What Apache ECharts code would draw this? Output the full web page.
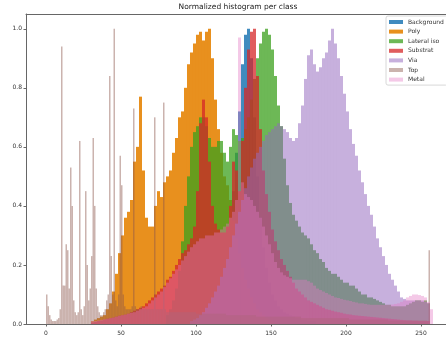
<!DOCTYPE html>
<html>
<head>
<meta charset="utf-8">
<script src="https://cdn.jsdelivr.net/npm/echarts@6/dist/echarts.min.js"></script>
<style>html,body{margin:0;padding:0;background:#fff}#c{width:446px;height:339px}</style>
</head>
<body>
<div id="c"></div>
<script>
// ---------- data (normalized counts per bin) ----------
const classNames = ['Background', 'Poly', 'Lateral iso', 'Substrat', 'Via', 'Top', 'Metal'];
const xTicks = [0, 50, 100, 150, 200, 250];
const yTicks = [0, 0.2, 0.4, 0.6, 0.8, 1.0];

// bins of width 2, first bin starts at the given start value
const backgroundStart = 104;
const background = [0.005, 0.008, 0.01, 0.015, 0.02, 0.04, 0.07, 0.12, 0.2, 0.32, 0.45, 0.58, 0.72, 0.88, 0.98, 1.0,
  0.9, 0.7, 0.5, 0.36, 0.26, 0.19, 0.14, 0.1, 0.08, 0.06, 0.05, 0.04, 0.035, 0.03, 0.025, 0.02, 0.02, 0.015, 0.015, 0.01, 0.01, 0.01];

const polyStart = 30;
const poly = [0.01, 0.015, 0.02, 0.025, 0.03, 0.05, 0.07, 0.11, 0.17, 0.24, 0.3, 0.36, 0.38, 0.42, 0.55, 0.6, 0.77, 0.52,
  0.36, 0.33, 0.33, 0.4, 0.45, 0.43, 0.48, 0.5, 0.52, 0.58, 0.63, 0.7, 0.72, 0.8, 0.88, 0.92, 0.95, 0.98, 0.99, 0.96,
  0.99, 1.0, 0.9, 0.76, 0.66, 0.58, 0.5, 0.47, 0.42, 0.35, 0.29, 0.24, 0.19, 0.15, 0.12, 0.09, 0.07, 0.05, 0.04, 0.03,
  0.02, 0.015, 0.01];

const lateralStart = 80;
const lateral = [0.03, 0.05, 0.08, 0.12, 0.18, 0.28, 0.4, 0.5, 0.6, 0.65, 0.67, 0.7, 0.7, 0.67, 0.63, 0.6, 0.6, 0.62,
  0.62, 0.58, 0.55, 0.6, 0.66, 0.64, 0.62, 0.63, 0.66, 0.7, 0.76, 0.83, 0.9, 0.95, 0.99, 1.0, 0.98, 0.93, 0.84, 0.74,
  0.67, 0.56, 0.47, 0.41, 0.37, 0.35, 0.33, 0.31, 0.3, 0.29, 0.27, 0.25, 0.24, 0.22, 0.21, 0.19, 0.18, 0.17, 0.17,
  0.16, 0.15, 0.14, 0.14, 0.13, 0.13, 0.12, 0.11, 0.1, 0.1, 0.09, 0.09, 0.085, 0.08, 0.075, 0.07, 0.065, 0.065, 0.06,
  0.06, 0.06, 0.06, 0.06, 0.065, 0.07, 0.075, 0.08, 0.08, 0.075, 0.08, 0.07];

const substratStart = 30;
const substrat = [0.005, 0.007, 0.01, 0.012, 0.015, 0.018, 0.02, 0.022, 0.025, 0.028, 0.03, 0.032, 0.035, 0.04, 0.045,
  0.05, 0.055, 0.06, 0.07, 0.08, 0.09, 0.1, 0.11, 0.12, 0.13, 0.15, 0.16, 0.18, 0.2, 0.22, 0.24, 0.25, 0.27, 0.29, 0.33,
  0.45, 0.68, 0.76, 0.7, 0.55, 0.4, 0.34, 0.32, 0.31, 0.31, 0.33, 0.4, 0.55, 0.52, 0.45, 0.62, 0.8, 0.93, 0.99, 1.0,
  0.84, 0.66, 0.52, 0.44, 0.38, 0.32, 0.28, 0.25, 0.22, 0.2, 0.18, 0.16, 0.14, 0.12, 0.11, 0.1, 0.09, 0.08, 0.075, 0.07,
  0.065, 0.06, 0.055, 0.05, 0.048, 0.045, 0.042, 0.04, 0.038, 0.035, 0.033, 0.032, 0.03, 0.029, 0.028, 0.027, 0.026,
  0.025, 0.024, 0.023, 0.022, 0.021, 0.02, 0.019, 0.018, 0.017, 0.016, 0.015, 0.014, 0.013, 0.012, 0.012, 0.011, 0.011,
  0.01, 0.01, 0.01, 0.01];

const viaStart = 96;
const via = [0.01, 0.015, 0.02, 0.03, 0.04, 0.055, 0.07, 0.09, 0.11, 0.13, 0.16, 0.19, 0.22, 0.26, 0.3, 0.34, 0.38,
  0.42, 0.46, 0.5, 0.53, 0.56, 0.58, 0.6, 0.62, 0.64, 0.65, 0.66, 0.67, 0.68, 0.67, 0.66, 0.65, 0.63, 0.62, 0.63, 0.68,
  0.74, 0.83, 0.91, 0.93, 0.88, 0.855, 0.87, 0.9, 0.92, 0.96, 1.0, 0.95, 0.9, 0.84, 0.78, 0.72, 0.66, 0.61, 0.57, 0.52,
  0.48, 0.44, 0.4, 0.37, 0.33, 0.29, 0.26, 0.23, 0.2, 0.17, 0.15, 0.13, 0.11, 0.09, 0.085, 0.08, 0.08, 0.08, 0.08, 0.08,
  0.08, 0.075, 0.07];

// Top: bins of width 1 from 0 to 81, then bins of width 2, then the last two bins of width 1
const topHeadStart = 0;
const topHead = [0.1, 0.06, 0.03, 0.015, 0.01, 0.01, 0.01, 0.015, 0.02, 0.05, 0.94, 0.13, 0.13, 0.27, 0.25, 0.12, 0.53,
  0.4, 0.08, 0.04, 0.03, 0.04, 0.62, 0.05, 0.03, 0.06, 0.45, 0.2, 0.08, 0.12, 0.23, 0.63, 0.4, 0.12, 0.06, 0.04, 0.03,
  0.03, 0.04, 0.05, 0.08, 0.1, 0.84, 0.23, 0.1, 1.0, 0.08, 0.06, 0.1, 0.57, 0.47, 0.1, 0.06, 0.05, 0.05, 0.05, 0.05,
  0.06, 0.73, 0.06, 0.05, 0.05, 0.05, 0.06, 0.05, 0.05, 0.05, 0.05, 0.05, 0.05, 0.05, 0.05, 0.7, 0.05, 0.05, 0.05,
  0.05, 0.05, 0.75, 0.05, 0.04, 0.04];
const topTailStart = 82;
const topTail = [0.04, 0.04, 0.04, 0.04, 0.04, 0.04, 0.04, 0.04, 0.04,
  0.035, 0.035, 0.035, 0.035, 0.035, 0.035, 0.035, 0.035, 0.035, 0.035,
  0.03, 0.03, 0.03, 0.03, 0.03, 0.03, 0.03, 0.03, 0.03, 0.03,
  0.025, 0.025, 0.025, 0.025, 0.025, 0.025, 0.025, 0.025, 0.025, 0.025, 0.025, 0.025, 0.025, 0.025, 0.025,
  0.02, 0.02, 0.02, 0.02, 0.02, 0.02, 0.02, 0.02, 0.02, 0.02, 0.02, 0.02, 0.02, 0.02, 0.02, 0.02,
  0.015, 0.015, 0.015, 0.015, 0.015, 0.015, 0.015, 0.015, 0.015, 0.015, 0.015, 0.015, 0.015,
  0.012, 0.012, 0.012, 0.012, 0.012, 0.012, 0.012, 0.012, 0.012, 0.012, 0.012, 0.012, 0.012];
const topEndStart = 254;
const topEnd = [0.01, 0.25];

const metalStart = 30;
const metal = [0.01, 0.01, 0.012, 0.014, 0.016, 0.018, 0.02, 0.022, 0.025, 0.028, 0.03, 0.032, 0.035, 0.038, 0.04,
  0.045, 0.05, 0.055, 0.06, 0.07, 0.08, 0.09, 0.1, 0.11, 0.125, 0.14, 0.155, 0.17, 0.185, 0.2, 0.215, 0.23, 0.245,
  0.26, 0.27, 0.28, 0.29, 0.29, 0.3, 0.3, 0.3, 0.31, 0.31, 0.32, 0.33, 0.34, 0.36, 0.38, 0.42, 0.97, 0.48, 0.44, 0.43,
  0.42, 0.4, 0.38, 0.36, 0.33, 0.3, 0.27, 0.24, 0.21, 0.19, 0.175, 0.165, 0.16, 0.155, 0.15, 0.15, 0.15, 0.15, 0.15,
  0.145, 0.14, 0.13, 0.12, 0.115, 0.11, 0.105, 0.1, 0.095, 0.09, 0.088, 0.085, 0.082, 0.08, 0.078, 0.075, 0.073, 0.07,
  0.07, 0.068, 0.066, 0.065, 0.065, 0.065, 0.065, 0.065, 0.065, 0.065, 0.066, 0.068, 0.07, 0.075, 0.08, 0.09, 0.095,
  0.1, 0.1, 0.098, 0.095, 0.09, 0.075, 0.05];

// ---------- styling ----------
const colors = {
  'Background': 'rgba(31,119,180,0.85)',
  'Poly': 'rgba(229,132,5,0.9)',
  'Lateral iso': 'rgba(60,160,30,0.75)',
  'Substrat': 'rgba(214,39,40,0.75)',
  'Via': 'rgba(148,103,189,0.52)',
  'Top': 'rgba(140,86,75,0.45)',
  'Metal': 'rgba(227,119,194,0.4)'
};

function bins(start, width, values) {
  return values.map((h, i) => [start + i * width, start + (i + 1) * width, h]);
}

const seriesBins = {
  'Background': bins(backgroundStart, 2, background),
  'Poly': bins(polyStart, 2, poly),
  'Lateral iso': bins(lateralStart, 2, lateral),
  'Substrat': bins(substratStart, 2, substrat),
  'Via': bins(viaStart, 2, via),
  'Top': bins(topHeadStart, 1, topHead).concat(bins(topTailStart, 2, topTail), bins(topEndStart, 1, topEnd)),
  'Metal': bins(metalStart, 2, metal)
};

function makeSeries(name) {
  const color = colors[name];
  return {
    type: 'custom',
    name: name,
    data: seriesBins[name],
    encode: { x: [0, 1], y: 2 },
    clip: true,
    itemStyle: { color: color },
    renderItem: function (params, api) {
      const p0 = api.coord([api.value(0), api.value(2)]);
      const p1 = api.coord([api.value(1), 0]);
      return {
        type: 'rect',
        shape: { x: p0[0], y: p0[1], width: p1[0] - p0[0], height: p1[1] - p0[1] },
        style: { fill: color }
      };
    }
  };
}

const font = 'DejaVu Sans';
const axisColor = '#666';
const chart = echarts.init(document.getElementById('c'), null, { renderer: 'canvas' });
chart.setOption({
  animation: false,
  backgroundColor: '#fff',
  graphic: [{
    type: 'text', x: 238, y: 3,
    style: { text: 'Normalized histogram per class', fontFamily: font, fontSize: 7.5, fill: '#222', align: 'center' }
  }],
  grid: { left: 26, right: 0, top: 14, bottom: 15 },
  xAxis: [{
    type: 'value', min: -13.333, max: 266.667,
    axisLine: { show: true, onZero: false, lineStyle: { color: axisColor, width: 1 } },
    axisTick: { show: true, length: 2.5, customValues: xTicks, lineStyle: { color: axisColor } },
    axisLabel: { customValues: xTicks, fontFamily: font, fontSize: 6, color: '#333', margin: 6 },
    splitLine: { show: false }
  }, {
    type: 'value', position: 'top', min: -13.333, max: 266.667,
    axisLine: { show: true, onZero: false, lineStyle: { color: axisColor, width: 1 } },
    axisTick: { show: false }, axisLabel: { show: false }, splitLine: { show: false }
  }],
  yAxis: {
    type: 'value', min: 0, max: 1.05,
    axisLine: { show: true, onZero: false, lineStyle: { color: axisColor, width: 1 } },
    axisTick: { show: true, length: 2.5, customValues: yTicks, lineStyle: { color: axisColor } },
    axisLabel: { customValues: yTicks, fontFamily: font, fontSize: 6, color: '#333', margin: 4,
      formatter: v => v.toFixed(1) },
    splitLine: { show: false }
  },
  legend: {
    orient: 'vertical', left: 386, top: 16,
    padding: [2.5, 4, 2, 3],
    itemWidth: 14, itemHeight: 4, itemGap: 2.6,
    icon: 'rect',
    backgroundColor: 'rgba(255,255,255,0.85)', borderColor: '#d8d8d8', borderWidth: 1, borderRadius: 2,
    textStyle: { fontFamily: font, fontSize: 6, lineHeight: 7, color: '#333' },
    data: classNames
  },
  series: classNames.map(makeSeries)
});
</script>
</body>
</html>
